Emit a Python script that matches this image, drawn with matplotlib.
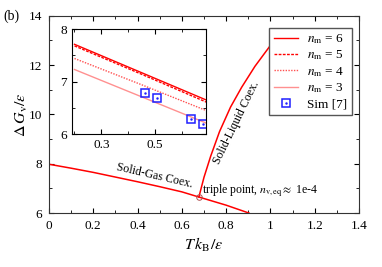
import matplotlib
matplotlib.use('Agg')
import matplotlib.pyplot as plt
from matplotlib.ticker import MultipleLocator

plt.rcParams['font.family'] = ['Liberation Serif', 'DejaVu Serif']
plt.rcParams['mathtext.fontset'] = 'stix'
plt.rcParams['font.size'] = 9

# main phase diagram
sg_T = [0.0, 0.1, 0.2, 0.3, 0.4, 0.5, 0.6, 0.677, 0.8, 0.903]
sg_G = [7.98, 7.82, 7.65, 7.46, 7.27, 7.07, 6.86, 6.65, 6.32, 6.0]
sl_T = [0.677, 0.70, 0.73, 0.77, 0.82, 0.87, 0.93, 1.0]
sl_G = [6.65, 7.45, 8.3, 9.3, 10.3, 11.1, 11.95, 12.8]
triple = (0.677, 6.65)

# inset
inset_T = [0.2, 0.45, 0.7]
n6 = [7.71, 7.17, 6.63]
n5 = [7.68, 7.14, 6.59]
n4 = [7.44, 6.94, 6.43]
n3 = [7.23, 6.71, 6.19]
sim_T = [0.464, 0.507, 0.636, 0.679]
sim_G = [6.79, 6.69, 6.29, 6.20]

fig = plt.figure(figsize=(3.82, 2.67), dpi=100)
ax = fig.add_axes([0.128, 0.202, 0.812, 0.739])
ax.plot(sg_T, sg_G, color='#ff0000', lw=1.1)
ax.plot(sl_T, sl_G, color='#ff0000', lw=1.1)
ax.plot(*triple, 'o', ms=4, mfc='none', mec='#b05050', mew=0.7)
ax.set_xlim(0, 1.4)
ax.set_ylim(6, 14)
ax.xaxis.set_major_locator(MultipleLocator(0.2))
ax.xaxis.set_minor_locator(MultipleLocator(0.1))
ax.yaxis.set_major_locator(MultipleLocator(2))
ax.yaxis.set_minor_locator(MultipleLocator(1))
ax.xaxis.set_major_formatter(lambda v, p: '%g' % round(v, 2))
ax.tick_params(which='both', direction='in', top=True, right=True, labelsize=9.5)
ax.tick_params(which='major', length=3.5, pad=5)
ax.tick_params(which='minor', length=2)
ax.set_xlabel(r'$T\,k_\mathrm{B}/\varepsilon$', fontsize=11.5, labelpad=3)
ax.set_ylabel(r'$\Delta\,G_\mathrm{v}/\varepsilon$', fontsize=11.5, labelpad=-1)
for s in ax.spines.values():
    s.set_color('#333333')

ax.text(0.479, 7.5, 'Solid-Gas Coex.', rotation=-13, ha='center', va='center', fontsize=8.5)
ax.text(0.845, 9.65, 'Solid-Liquid Coex.', rotation=64, ha='center', va='center', fontsize=8.5)
ax.text(0.69, 6.9, r'triple point, $n_\mathrm{v,eq}\approx$ 1e-4', ha='left', va='center', fontsize=8.5)
fig.text(0.008, 0.94, '(b)', fontsize=10, va='center')

# inset axes
ins = fig.add_axes([0.188, 0.498, 0.351, 0.393])
l6, = ins.plot(inset_T, n6, color='#ff0000', lw=1.0)
l5, = ins.plot(inset_T, n5, color='#ff0000', lw=1.0, ls=(0, (2, 1)))
l4, = ins.plot(inset_T, n4, color='#ff5050', lw=1.0, ls=(0, (1, 1)))
l3, = ins.plot(inset_T, n3, color='#ff9090', lw=1.0)
sq, = ins.plot(sim_T, sim_G, 's', ms=6, mfc='none', mec='#1f1fff', mew=1.1, ls='none')
dt, = ins.plot(sim_T, sim_G, '.', ms=1.5, color='#1f1fff', ls='none')
ins.set_xlim(0.19, 0.69)
ins.set_ylim(6, 8)
ins.set_xticks([0.3, 0.5])
ins.set_xticks([0.2, 0.4, 0.6], minor=True)
ins.set_yticks([6, 7, 8])
ins.yaxis.set_minor_locator(MultipleLocator(0.5))
ins.tick_params(which='both', direction='in', top=True, right=True, labelsize=9.5)
ins.tick_params(which='major', length=3.5)
ins.tick_params(which='minor', length=2)

ax.legend([l6, l5, l4, l3, (sq, dt)],
          [r'$n_\mathrm{m}$ = 6', r'$n_\mathrm{m}$ = 5', r'$n_\mathrm{m}$ = 4',
           r'$n_\mathrm{m}$ = 3', 'Sim [7]'],
          loc='upper right', bbox_to_anchor=(0.976, 0.94), fontsize=9.5,
          fancybox=False, edgecolor='#555555', framealpha=1,
          handlelength=1.8, handletextpad=0.7, labelspacing=0.2,
          borderpad=0.35, borderaxespad=0)

fig.savefig('out.png', dpi=100)
